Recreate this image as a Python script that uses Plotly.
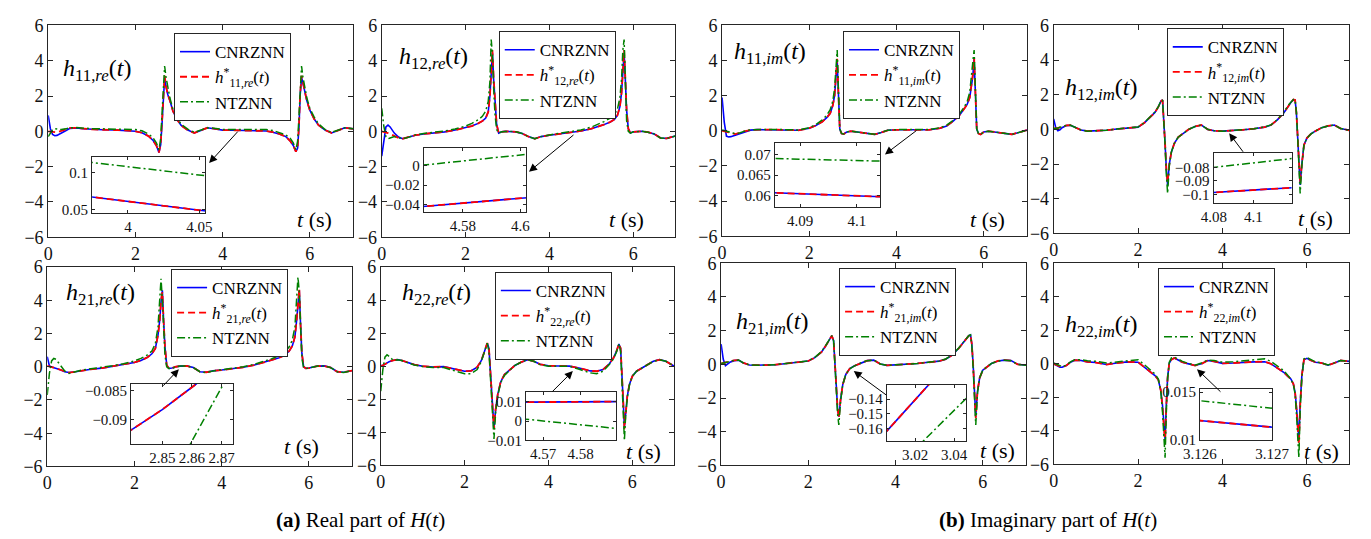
import plotly.graph_objects as go

W, H = 1371, 539

# ---------------- data ----------------
T = [0, 0.05, 0.1, 0.15, 0.2, 0.3, 0.4, 0.5, 0.65, 0.8,
     1.0, 1.25, 1.5, 1.75, 2.0, 2.15, 2.3, 2.4, 2.48, 2.54,
     2.58, 2.61, 2.64, 2.67, 2.7, 2.74, 2.79, 2.86, 2.95, 3.05,
     3.2, 3.35, 3.5, 3.65, 3.8, 4.0, 4.25, 4.5, 4.75, 5.0,
     5.15, 5.3, 5.45, 5.55, 5.62, 5.68, 5.72, 5.75, 5.78, 5.81,
     5.84, 5.88, 5.93, 6.0, 6.1, 6.2, 6.35, 6.5, 6.65, 6.8,
     7.0]

# h11,re
H11RE_REF = [0.0, -0.02, -0.05, -0.07, -0.06, 0.02, 0.12, 0.2, 0.19, 0.15,
             0.11, 0.09, 0.08, 0.06, 0.0, -0.08, -0.27, -0.5, -0.8, -1.2,
             -0.7, 0.5, 2.0, 3.15, 2.6, 2.1, 1.75, 1.15, 0.68, 0.33,
             0.07, -0.09, 0.05, 0.2, 0.15, 0.07, 0.06, 0.05, 0.04, 0.02,
             -0.05, -0.15, -0.3, -0.55, -0.8, -1.15, -0.9, 0.3, 2.2, 3.15,
             2.8, 2.3, 1.75, 1.2, 0.7, 0.35, 0.07, -0.09, 0.05, 0.2,
             0.14]
H11RE_CN = [0.9, 0.15, -0.18, -0.25, -0.23, -0.12, 0.03, 0.17, 0.19, 0.15,
            0.11, 0.09, 0.08, 0.06, 0.0, -0.08, -0.27, -0.5, -0.8, -1.2,
            -0.75, 0.4, 1.9, 3.05, 2.55, 2.1, 1.75, 1.15, 0.68, 0.33,
            0.07, -0.09, 0.05, 0.2, 0.15, 0.07, 0.06, 0.05, 0.04, 0.02,
            -0.05, -0.15, -0.3, -0.55, -0.8, -1.15, -0.95, 0.2, 2.1, 3.05,
            2.75, 2.3, 1.75, 1.2, 0.7, 0.35, 0.07, -0.09, 0.05, 0.2,
            0.14]
H11RE_NT = [-0.3, -0.1, 0.08, 0.15, 0.14, 0.1, 0.14, 0.2, 0.21, 0.18,
            0.15, 0.14, 0.14, 0.13, 0.1, 0.03, -0.15, -0.35, -0.65, -1.05,
            -0.4, 1.0, 2.8, 3.7, 3.1, 2.5, 1.9, 1.25, 0.78, 0.4,
            0.12, -0.05, 0.07, 0.2, 0.18, 0.11, 0.11, 0.11, 0.1, 0.1,
            0.05, -0.06, -0.2, -0.4, -0.65, -1.05, -0.55, 0.8, 2.8, 3.7,
            3.1, 2.5, 1.9, 1.3, 0.8, 0.42, 0.1, -0.06, 0.07, 0.2,
            0.15]

# h12,re
H12RE_REF = [0.0, -0.02, -0.05, -0.1, -0.15, -0.25, -0.37, -0.42, -0.33, -0.22,
             -0.15, -0.1, -0.03, 0.07, 0.2, 0.3, 0.45, 0.58, 0.75, 1.1,
             2.0, 3.3, 4.6, 3.0, 1.8, 0.4, -0.1, -0.03, 0.0, 0.0,
             -0.03, -0.12, -0.3, -0.42, -0.3, -0.22, -0.15, -0.07, 0.02, 0.15,
             0.26, 0.38, 0.53, 0.68, 0.9, 1.4, 2.2, 3.4, 4.6, 3.0,
             1.2, 0.15, -0.1, -0.03, 0.0, 0.0, -0.05, -0.15, -0.38, -0.4,
             -0.27]
H12RE_CN = [-1.4, -0.4, 0.25, 0.35, 0.25, -0.1, -0.32, -0.42, -0.33, -0.22,
            -0.15, -0.1, -0.03, 0.07, 0.2, 0.3, 0.45, 0.58, 0.75, 1.1,
            2.0, 3.2, 4.45, 2.9, 1.8, 0.4, -0.1, -0.03, 0.0, 0.0,
            -0.03, -0.12, -0.3, -0.42, -0.3, -0.22, -0.15, -0.07, 0.02, 0.15,
            0.26, 0.38, 0.53, 0.68, 0.9, 1.4, 2.2, 3.3, 4.45, 2.9,
            1.2, 0.15, -0.1, -0.03, 0.0, 0.0, -0.05, -0.15, -0.38, -0.4,
            -0.27]
H12RE_NT = [1.3, 0.3, -0.3, -0.42, -0.38, -0.3, -0.37, -0.42, -0.33, -0.2,
            -0.12, -0.06, 0.02, 0.13, 0.3, 0.45, 0.65, 0.85, 1.15, 1.7,
            2.8, 5.2, 4.4, 2.4, 1.0, 0.1, -0.1, -0.03, 0.0, 0.0,
            -0.03, -0.12, -0.3, -0.42, -0.3, -0.2, -0.1, -0.02, 0.08, 0.24,
            0.38, 0.55, 0.75, 0.95, 1.25, 1.9, 3.0, 4.6, 5.2, 2.5,
            0.6, 0.0, -0.1, -0.03, 0.0, 0.0, -0.05, -0.15, -0.38, -0.4,
            -0.27]

# h11,im
H11IM_REF = [0.0, -0.03, -0.07, -0.12, -0.16, -0.18, -0.12, -0.03, 0.05, 0.07,
             0.07, 0.07, 0.05, 0.03, 0.15, 0.3, 0.52, 0.75, 1.0, 1.45,
             2.0, 3.0, 4.1, 2.0, 0.1, -0.15, -0.18, -0.07, -0.02, -0.05,
             -0.1, -0.14, -0.2, -0.1, 0.03, 0.06, 0.06, 0.06, 0.06, 0.15,
             0.28, 0.55, 0.9, 1.25, 1.5, 1.9, 2.5, 3.2, 4.2, 2.0,
             0.1, -0.15, -0.2, -0.07, -0.02, -0.05, -0.1, -0.15, -0.2, -0.1,
             0.05]
H11IM_CN = [1.9, 0.5, -0.3, -0.35, -0.33, -0.25, -0.17, -0.06, 0.04, 0.07,
            0.07, 0.07, 0.05, 0.03, 0.15, 0.3, 0.52, 0.75, 1.0, 1.45,
            2.0, 2.9, 4.0, 2.0, 0.1, -0.15, -0.18, -0.07, -0.02, -0.05,
            -0.1, -0.14, -0.2, -0.1, 0.03, 0.06, 0.06, 0.06, 0.06, 0.15,
            0.28, 0.55, 0.9, 1.25, 1.5, 1.9, 2.5, 3.1, 4.1, 2.0,
            0.1, -0.15, -0.2, -0.07, -0.02, -0.05, -0.1, -0.15, -0.2, -0.1,
            0.05]
H11IM_NT = [0.05, 0.03, 0.0, -0.05, -0.1, -0.15, -0.12, -0.03, 0.06, 0.08,
            0.08, 0.08, 0.07, 0.05, 0.18, 0.35, 0.62, 0.88, 1.2, 1.7,
            2.4, 3.6, 4.6, 2.2, 0.1, -0.15, -0.18, -0.07, -0.02, -0.05,
            -0.1, -0.14, -0.2, -0.1, 0.04, 0.07, 0.07, 0.07, 0.07, 0.18,
            0.32, 0.6, 0.98, 1.35, 1.65, 2.2, 3.0, 3.9, 4.6, 2.2,
            0.1, -0.15, -0.2, -0.07, -0.02, -0.05, -0.1, -0.15, -0.2, -0.1,
            0.05]

# h12,im
H12IM_REF = [0.05, 0.05, 0.08, 0.12, 0.16, 0.23, 0.24, 0.12, -0.04, -0.1,
             -0.08, -0.05, 0.02, 0.07, 0.13, 0.38, 0.72, 0.98, 1.3, 1.62,
             1.7, 0.6, -0.8, -2.3, -3.1, -2.0, -1.3, -0.8, -0.45, -0.27,
             0.0, 0.17, 0.25, 0.0, -0.08, -0.1, -0.07, -0.02, 0.04, 0.13,
             0.25, 0.55, 0.95, 1.35, 1.55, 1.72, 1.7, 1.0, -0.3, -1.9,
             -3.1, -2.0, -0.9, -0.5, -0.25, -0.1, 0.1, 0.2, 0.25, 0.05,
             -0.05]
H12IM_CN = [0.6, 0.1, -0.08, -0.02, 0.1, 0.22, 0.24, 0.12, -0.04, -0.1,
            -0.08, -0.05, 0.02, 0.07, 0.13, 0.38, 0.72, 0.98, 1.3, 1.62,
            1.7, 0.6, -0.8, -2.3, -3.2, -2.0, -1.3, -0.8, -0.45, -0.27,
            0.0, 0.17, 0.25, 0.0, -0.08, -0.1, -0.07, -0.02, 0.04, 0.13,
            0.25, 0.55, 0.95, 1.35, 1.55, 1.72, 1.7, 1.0, -0.3, -1.9,
            -3.2, -2.0, -0.9, -0.5, -0.25, -0.1, 0.1, 0.2, 0.25, 0.05,
            -0.05]
H12IM_NT = [0.05, 0.05, 0.08, 0.12, 0.16, 0.23, 0.24, 0.12, -0.04, -0.1,
            -0.08, -0.05, 0.02, 0.07, 0.14, 0.4, 0.75, 1.0, 1.32, 1.62,
            1.7, 0.6, -0.9, -2.6, -3.7, -2.1, -1.3, -0.8, -0.45, -0.27,
            0.0, 0.17, 0.25, 0.0, -0.08, -0.1, -0.07, -0.02, 0.04, 0.14,
            0.26, 0.57, 0.97, 1.37, 1.56, 1.72, 1.7, 1.0, -0.4, -2.2,
            -3.7, -2.1, -0.9, -0.5, -0.25, -0.1, 0.1, 0.2, 0.25, 0.05,
            -0.05]

# h21,re
H21RE_REF = [0.05, 0.03, 0.0, -0.05, -0.1, -0.18, -0.3, -0.35, -0.3, -0.22,
             -0.15, -0.08, 0.02, 0.12, 0.26, 0.38, 0.57, 0.78, 1.1, 1.9,
             2.8, 4.0, 4.5, 2.7, 1.2, 0.1, -0.1, -0.08, 0.0, 0.04,
             0.05, -0.05, -0.3, -0.33, -0.25, -0.2, -0.13, -0.03, 0.1, 0.28,
             0.38, 0.52, 0.7, 0.95, 1.25, 1.8, 2.8, 4.0, 4.7, 2.5,
             0.8, 0.0, -0.1, -0.08, 0.0, 0.04, 0.05, -0.05, -0.3, -0.33,
             -0.23]
H21RE_CN = [0.6, 0.05, -0.02, -0.05, -0.1, -0.18, -0.3, -0.35, -0.3, -0.22,
            -0.15, -0.08, 0.02, 0.12, 0.26, 0.38, 0.57, 0.78, 1.1, 1.9,
            2.8, 3.9, 4.6, 2.7, 1.2, 0.1, -0.1, -0.08, 0.0, 0.04,
            0.05, -0.05, -0.3, -0.33, -0.25, -0.2, -0.13, -0.03, 0.1, 0.28,
            0.38, 0.52, 0.7, 0.95, 1.25, 1.8, 2.8, 3.9, 4.6, 2.5,
            0.8, 0.0, -0.1, -0.08, 0.0, 0.04, 0.05, -0.05, -0.3, -0.33,
            -0.23]
H21RE_NT = [-1.7, -0.4, 0.35, 0.5, 0.45, 0.1, -0.25, -0.4, -0.3, -0.2,
            -0.12, -0.05, 0.06, 0.18, 0.35, 0.5, 0.72, 0.95, 1.4, 2.4,
            3.8, 5.3, 4.0, 2.0, 0.7, 0.0, -0.1, -0.1, 0.0, 0.04,
            0.05, -0.05, -0.3, -0.35, -0.25, -0.18, -0.1, 0.0, 0.15, 0.35,
            0.48, 0.65, 0.88, 1.2, 1.6, 2.4, 3.8, 5.4, 4.5, 2.0,
            0.5, -0.05, -0.1, -0.08, 0.0, 0.04, 0.05, -0.05, -0.3, -0.35,
            -0.23]

# h22,re
H22RE_REF = [0.0, 0.05, 0.12, 0.2, 0.28, 0.36, 0.4, 0.35, 0.22, 0.1,
             0.0, -0.04, -0.02, -0.15, -0.3, -0.28, -0.05, 0.35, 0.95, 1.4,
             1.1, 0.0, -1.4, -2.8, -3.8, -2.6, -1.7, -0.95, -0.5, -0.28,
             0.05, 0.25, 0.4, 0.3, 0.12, 0.03, 0.0, 0.01, -0.12, -0.28,
             -0.3, -0.2, 0.15, 0.5, 0.9, 1.35, 1.1, -0.2, -2.0, -3.8,
             -2.8, -1.8, -1.1, -0.6, -0.3, -0.15, 0.1, 0.3, 0.4, 0.3,
             0.0]
H22RE_CN = [0.05, 0.05, 0.12, 0.2, 0.28, 0.36, 0.4, 0.35, 0.22, 0.1,
            0.0, -0.04, -0.02, -0.15, -0.3, -0.28, -0.05, 0.35, 0.95, 1.4,
            1.1, 0.0, -1.4, -2.8, -3.7, -2.6, -1.7, -0.95, -0.5, -0.28,
            0.05, 0.25, 0.4, 0.3, 0.12, 0.03, 0.0, 0.01, -0.12, -0.28,
            -0.3, -0.2, 0.15, 0.5, 0.9, 1.35, 1.1, -0.2, -2.0, -3.7,
            -2.8, -1.8, -1.1, -0.6, -0.3, -0.15, 0.1, 0.3, 0.4, 0.3,
            0.0]
H22RE_NT = [-1.5, -0.2, 0.55, 0.7, 0.6, 0.35, 0.4, 0.35, 0.2, 0.08,
            -0.02, -0.08, -0.08, -0.25, -0.45, -0.45, -0.2, 0.3, 0.95, 1.4,
            0.9, -0.4, -1.8, -3.4, -4.4, -2.8, -1.8, -1.0, -0.55, -0.3,
            0.05, 0.25, 0.4, 0.3, 0.1, 0.0, -0.02, 0.0, -0.2, -0.4,
            -0.45, -0.3, 0.1, 0.45, 0.85, 1.35, 0.9, -0.6, -2.6, -4.5,
            -3.0, -1.9, -1.15, -0.6, -0.3, -0.15, 0.1, 0.3, 0.4, 0.3,
            0.0]

# h21,im
H21IM_REF = [0.05, 0.07, 0.1, 0.14, 0.18, 0.24, 0.25, 0.1, -0.04, -0.05,
             -0.05, -0.02, 0.05, 0.12, 0.2, 0.4, 0.72, 1.1, 1.45, 1.7,
             1.4, 0.3, -1.2, -2.6, -3.2, -2.1, -1.2, -0.6, -0.25, -0.1,
             0.08, 0.22, 0.25, 0.02, -0.06, -0.03, 0.0, 0.05, 0.12, 0.19,
             0.3, 0.55, 0.95, 1.3, 1.55, 1.7, 1.75, 1.2, 0.0, -1.8,
             -3.2, -1.6, -0.8, -0.35, -0.12, 0.05, 0.2, 0.25, 0.22, 0.0,
             -0.05]
H21IM_CN = [1.2, 0.3, -0.08, 0.0, 0.12, 0.22, 0.25, 0.1, -0.04, -0.05,
            -0.05, -0.02, 0.05, 0.12, 0.2, 0.4, 0.72, 1.1, 1.45, 1.7,
            1.4, 0.3, -1.2, -2.6, -3.1, -2.1, -1.2, -0.6, -0.25, -0.1,
            0.08, 0.22, 0.25, 0.02, -0.06, -0.03, 0.0, 0.05, 0.12, 0.19,
            0.3, 0.55, 0.95, 1.3, 1.55, 1.7, 1.75, 1.2, 0.0, -1.8,
            -3.1, -1.6, -0.8, -0.35, -0.12, 0.05, 0.2, 0.25, 0.22, 0.0,
            -0.05]
H21IM_NT = [0.05, 0.07, 0.1, 0.14, 0.18, 0.24, 0.25, 0.1, -0.04, -0.05,
            -0.05, -0.02, 0.05, 0.12, 0.2, 0.42, 0.75, 1.12, 1.45, 1.7,
            1.4, 0.2, -1.4, -2.9, -3.6, -2.2, -1.2, -0.6, -0.27, -0.11,
            0.08, 0.22, 0.25, 0.02, -0.06, -0.03, 0.0, 0.05, 0.12, 0.2,
            0.32, 0.57, 0.97, 1.3, 1.55, 1.7, 1.75, 1.1, -0.2, -2.1,
            -3.6, -1.7, -0.8, -0.35, -0.12, 0.05, 0.2, 0.25, 0.22, 0.0,
            -0.05]

# h22,im
H22IM_REF = [0.0, -0.05, -0.12, -0.17, -0.19, -0.1, 0.1, 0.22, 0.2, 0.12,
             0.08, -0.04, 0.05, 0.12, 0.1, -0.2, -0.48, -0.7, -0.95, -1.6,
             -2.6, -3.8, -4.8, -2.5, -0.8, 0.05, 0.25, 0.35, 0.22, 0.1,
             0.0, -0.1, 0.0, 0.2, 0.15, 0.03, 0.05, 0.1, 0.12, 0.13,
             0.0, -0.25, -0.5, -0.75, -0.9, -1.2, -1.7, -2.6, -3.8, -4.8,
             -2.5, -0.7, 0.25, 0.33, 0.2, 0.1, 0.05, -0.08, 0.05, 0.2,
             0.15]
H22IM_CN = [0.0, -0.08, -0.15, -0.2, -0.2, -0.1, 0.1, 0.22, 0.2, 0.12,
            0.08, -0.04, 0.05, 0.12, 0.1, -0.2, -0.48, -0.7, -0.95, -1.6,
            -2.5, -3.6, -4.5, -2.4, -0.8, 0.05, 0.25, 0.35, 0.22, 0.1,
            0.0, -0.1, 0.0, 0.2, 0.15, 0.03, 0.05, 0.1, 0.12, 0.13,
            0.0, -0.25, -0.5, -0.75, -0.9, -1.2, -1.7, -2.5, -3.6, -4.5,
            -2.4, -0.7, 0.25, 0.33, 0.2, 0.1, 0.05, -0.08, 0.05, 0.2,
            0.15]
H22IM_NT = [0.05, 0.0, -0.08, -0.13, -0.16, -0.08, 0.12, 0.25, 0.25, 0.18,
            0.15, 0.05, 0.12, 0.2, 0.25, -0.05, -0.35, -0.6, -0.9, -1.7,
            -2.9, -4.4, -5.6, -2.8, -0.9, 0.1, 0.35, 0.4, 0.28, 0.15,
            0.02, -0.08, 0.05, 0.22, 0.2, 0.1, 0.12, 0.18, 0.25, 0.3,
            0.15, -0.1, -0.4, -0.7, -0.9, -1.25, -1.8, -2.9, -4.5, -5.6,
            -2.8, -0.8, 0.3, 0.38, 0.25, 0.12, 0.06, -0.06, 0.06, 0.2,
            0.15]

# zoomed insets: time samples and values
IN11RE_T = [3.97, 4.06]
IN11RE_REF = [0.0682, 0.0466]
IN11RE_NT = [0.1151, 0.0946]
IN12RE_T = [4.56, 4.61]
IN12RE_REF = [-0.0436, -0.031]
IN12RE_NT = [-0.001, 0.0145]
IN11IM_T = [4.08, 4.11]
IN11IM_REF = [0.0610, 0.0595]
IN11IM_NT = [0.0692, 0.0682]
IN12IM_T = [4.07, 4.13]
IN12IM_REF = [-0.0994, -0.0941]
IN12IM_NT = [-0.0816, -0.0718]
IN21RE_T = [2.835, 2.8396, 2.85, 2.8611, 2.87]
IN21RE_REF = [-0.0935, -0.0918, -0.0883, -0.0840, -0.0800]
IN21RE_NT_T = [2.855, 2.8594, 2.8705, 2.875]
IN21RE_NT = [-0.0984, -0.0943, -0.0840, -0.0798]
IN22RE_T = [4.56, 4.595]
IN22RE_REF = [0.0098, 0.0102]
IN22RE_NT = [0.0021, -0.0049]
IN21IM_T = [3.0, 3.03]
IN21IM_REF = [-0.170, -0.1256]
IN21IM_NT_T = [3.02, 3.05]
IN21IM_NT = [-0.1743, -0.1344]
IN22IM_T = [3.1258, 3.1272]
IN22IM_REF = [0.01214, 0.01116]
IN22IM_NT = [0.01426, 0.01314]

MAIN_XTICKS = [0, 2, 4, 6]
MAIN_YTICKS = [-6, -4, -2, 0, 2, 4, 6]

INSET_XTICKS = [[4, 4.05], [4.58, 4.6], [4.09, 4.1], [4.08, 4.1],
                [2.85, 2.86, 2.87], [4.57, 4.58], [3.02, 3.04], [3.126, 3.127]]
INSET_XTEXT = [["4", "4.05"], ["4.58", "4.6"], ["4.09", "4.1"], ["4.08", "4.1"],
               ["2.85", "2.86", "2.87"], ["4.57", "4.58"], ["3.02", "3.04"], ["3.126", "3.127"]]
INSET_YTICKS = [[0.05, 0.1], [-0.04, -0.02, 0], [0.06, 0.065, 0.07], [-0.1, -0.09, -0.08],
                [-0.09, -0.085], [-0.01, 0, 0.01], [-0.16, -0.15, -0.14], [0.01, 0.015]]
INSET_YTEXT = [["0.05", "0.1"], ["\u22120.04", "\u22120.02", "0"], ["0.06", "0.065", "0.07"],
               ["\u22120.1", "\u22120.09", "\u22120.08"], ["\u22120.09", "\u22120.085"],
               ["\u22120.01", "0", "0.01"], ["\u22120.16", "\u22120.15", "\u22120.14"],
               ["0.01", "0.015"]]

SUBS = ["11,<i>re</i>", "12,<i>re</i>", "11,<i>im</i>", "12,<i>im</i>",
        "21,<i>re</i>", "22,<i>re</i>", "21,<i>im</i>", "22,<i>im</i>"]
SERIES_NAMES = ["CNRZNN", None, "NTZNN"]
CAPTIONS = ["<b>(a)</b> Real part of <i>H</i>(<i>t</i>)",
            "<b>(b)</b> Imaginary part of <i>H</i>(<i>t</i>)"]

# ---------------- layout geometry (pixels) ----------------
MAIN = [(32, 345, 16, 236), (374, 675, 16, 236), (723, 1036, 16, 235), (1063, 1366, 16, 232),
        (31, 344, 267, 474), (373, 674, 267, 473), (722, 1035, 263, 473), (1063, 1366, 263, 472)]
INSET = [(77, 193, 153, 211), (417, 522, 143, 210), (777, 885, 138, 205), (1227, 1307, 148, 200),
         (117, 222, 388, 451), (522, 614, 397, 447), (892, 973, 389, 448), (1213, 1287, 394, 447)]
INSET_XR = [[3.975, 4.054], [4.5664, 4.602], [4.0855, 4.1041], [4.0798, 4.1195],
            [2.8395, 2.874], [4.5655, 4.5893], [3.0055, 3.046], [3.126, 3.127]]
INSET_YR = [[0.045, 0.121], [-0.048, 0.019], [0.0572, 0.0728], [-0.106, -0.069],
            [-0.0943, -0.0838], [-0.01, 0.015], [-0.169, -0.13], [0.0099, 0.0153]]
ARROWS = [((197, 159), (227, 126)), ((525, 168), (571, 130)), ((890, 150), (923, 125)),
          ((1243, 128), (1258, 148)), ((166, 373), (149, 391)), ((570, 375), (548, 397)),
          ((858, 375), (892, 400)), ((1210, 373), (1235, 397))]
LEG = [(161, 24), (494, 22), (847, 22), (1179, 19), (158, 269), (490, 272), (843, 268), (1170, 268)]
LAB = [(45, 62), (390, 50), (733, 45), (1073, 82), (48, 295), (393, 295), (735, 325), (1073, 328)]
TS = [(325, 218), (645, 218), (1015, 218), (1352, 217), (312, 453), (662, 458), (1025, 457), (1358, 458)]
CAP_POS = [(352, 530), (1057, 530)]

FONT = "Liberation Serif, Times New Roman, Times, serif"
AX = "#262626"
BLUE, RED, GREEN = "#0000ff", "#ff0000", "#008000"


def fx(p):
    return p / W


def fy(p):
    return 1 - p / H


MAIN_DATA = [(H11RE_CN, H11RE_REF, H11RE_NT), (H12RE_CN, H12RE_REF, H12RE_NT),
             (H11IM_CN, H11IM_REF, H11IM_NT), (H12IM_CN, H12IM_REF, H12IM_NT),
             (H21RE_CN, H21RE_REF, H21RE_NT), (H22RE_CN, H22RE_REF, H22RE_NT),
             (H21IM_CN, H21IM_REF, H21IM_NT), (H22IM_CN, H22IM_REF, H22IM_NT)]
INSET_DATA = [
    (IN11RE_T, IN11RE_REF, IN11RE_T, IN11RE_NT),
    (IN12RE_T, IN12RE_REF, IN12RE_T, IN12RE_NT),
    (IN11IM_T, IN11IM_REF, IN11IM_T, IN11IM_NT),
    (IN12IM_T, IN12IM_REF, IN12IM_T, IN12IM_NT),
    (IN21RE_T, IN21RE_REF, IN21RE_NT_T, IN21RE_NT),
    (IN22RE_T, IN22RE_REF, IN22RE_T, IN22RE_NT),
    (IN21IM_T, IN21IM_REF, IN21IM_NT_T, IN21IM_NT),
    (IN22IM_T, IN22IM_REF, IN22IM_T, IN22IM_NT),
]

STY = [dict(color=BLUE, width=1.6, dash="solid"),
       dict(color=RED, width=1.8, dash="7px,4px"),
       dict(color=GREEN, width=1.5, dash="8px,3px,2px,3px")]

fig = go.Figure()
layout = dict(width=W, height=H, margin=dict(l=0, r=0, t=0, b=0),
              paper_bgcolor="white", plot_bgcolor="white", showlegend=True,
              font=dict(family=FONT, color="black"))
annotations = []


def axname(kind, i):
    return kind + ("" if i == 1 else str(i))


def axis_common(tickfont_size, ticklen):
    return dict(showline=True, linecolor=AX, linewidth=1, mirror="allticks",
                ticks="inside", ticklen=ticklen, tickcolor=AX, tickwidth=1,
                showgrid=False, zeroline=False, tickangle=0,
                tickfont=dict(family=FONT, size=tickfont_size, color="#111111"))


for k in range(8):
    mi = k + 1
    ii = k + 9
    l, r, t, b = MAIN[k]
    leg = "legend" if k == 0 else "legend%d" % (k + 1)
    names = [SERIES_NAMES[0],
             "<i>h</i><sup>*</sup><sub>%s</sub>(<i>t</i>)" % SUBS[k],
             SERIES_NAMES[2]]
    for s in range(3):
        fig.add_trace(go.Scatter(x=T, y=MAIN_DATA[k][s], mode="lines", name=names[s],
                                 line=STY[s], xaxis=axname("x", mi), yaxis=axname("y", mi),
                                 legend=leg, showlegend=True))
    xa = axis_common(18, 5)
    xa.update(domain=[fx(l), fx(r)], range=[0, 7], anchor=axname("y", mi),
              tickvals=MAIN_XTICKS)
    ya = axis_common(18, 5)
    ya.update(domain=[fy(b), fy(t)], range=[-6, 6], anchor=axname("x", mi),
              tickvals=MAIN_YTICKS)
    layout[axname("xaxis", mi)] = xa
    layout[axname("yaxis", mi)] = ya

    lx, ly = LEG[k]
    layout[leg] = dict(x=fx(lx), y=fy(ly), xanchor="left", yanchor="top", xref="paper", yref="paper",
                       bgcolor="white", bordercolor=AX, borderwidth=1,
                       font=dict(family=FONT, size=17, color="black"),
                       tracegroupgap=0, itemwidth=30)

    # inset
    il, ir, it, ib = INSET[k]
    tref, yref_, tnt, ynt = INSET_DATA[k]
    for s, (xx, yy) in enumerate([(tref, yref_), (tref, yref_), (tnt, ynt)]):
        fig.add_trace(go.Scatter(x=xx, y=yy, mode="lines", line=STY[s], showlegend=False,
                                 xaxis=axname("x", ii), yaxis=axname("y", ii), hoverinfo="skip"))
    xi = axis_common(15, 3)
    xi.update(domain=[fx(il), fx(ir)], range=INSET_XR[k], anchor=axname("y", ii),
              tickvals=INSET_XTICKS[k], ticktext=INSET_XTEXT[k])
    yi = axis_common(15, 3)
    yi.update(domain=[fy(ib), fy(it)], range=INSET_YR[k], anchor=axname("x", ii),
              tickvals=INSET_YTICKS[k], ticktext=INSET_YTEXT[k])
    layout[axname("xaxis", ii)] = xi
    layout[axname("yaxis", ii)] = yi

    # arrow
    (hx, hy), (tx, ty) = ARROWS[k]
    annotations.append(dict(x=fx(hx), y=fy(hy), xref="paper", yref="paper", text="",
                            showarrow=True, ax=tx - hx, ay=ty - hy, arrowhead=2,
                            arrowsize=1.6, arrowwidth=1, arrowcolor="black", standoff=0))
    # curve label
    ax_, ay_ = LAB[k]
    annotations.append(dict(x=fx(ax_), y=fy(ay_), xref="paper", yref="paper", xanchor="left",
                            yanchor="middle", showarrow=False,
                            text="<i>h</i><sub>%s</sub>(<i>t</i>)" % SUBS[k],
                            font=dict(family=FONT, size=24, color="black")))
    # t (s)
    sx, sy = TS[k]
    annotations.append(dict(x=fx(sx), y=fy(sy), xref="paper", yref="paper", xanchor="right",
                            yanchor="middle", showarrow=False, text="<i>t</i> (s)",
                            font=dict(family=FONT, size=22, color="black")))

for c in range(2):
    cx, cy = CAP_POS[c]
    annotations.append(dict(x=fx(cx), y=fy(cy), xref="paper", yref="paper", xanchor="center",
                            yanchor="middle", showarrow=False, text=CAPTIONS[c],
                            font=dict(family=FONT, size=21, color="black")))

layout["annotations"] = annotations
fig.update_layout(**layout)
fig.write_html("out.html")
